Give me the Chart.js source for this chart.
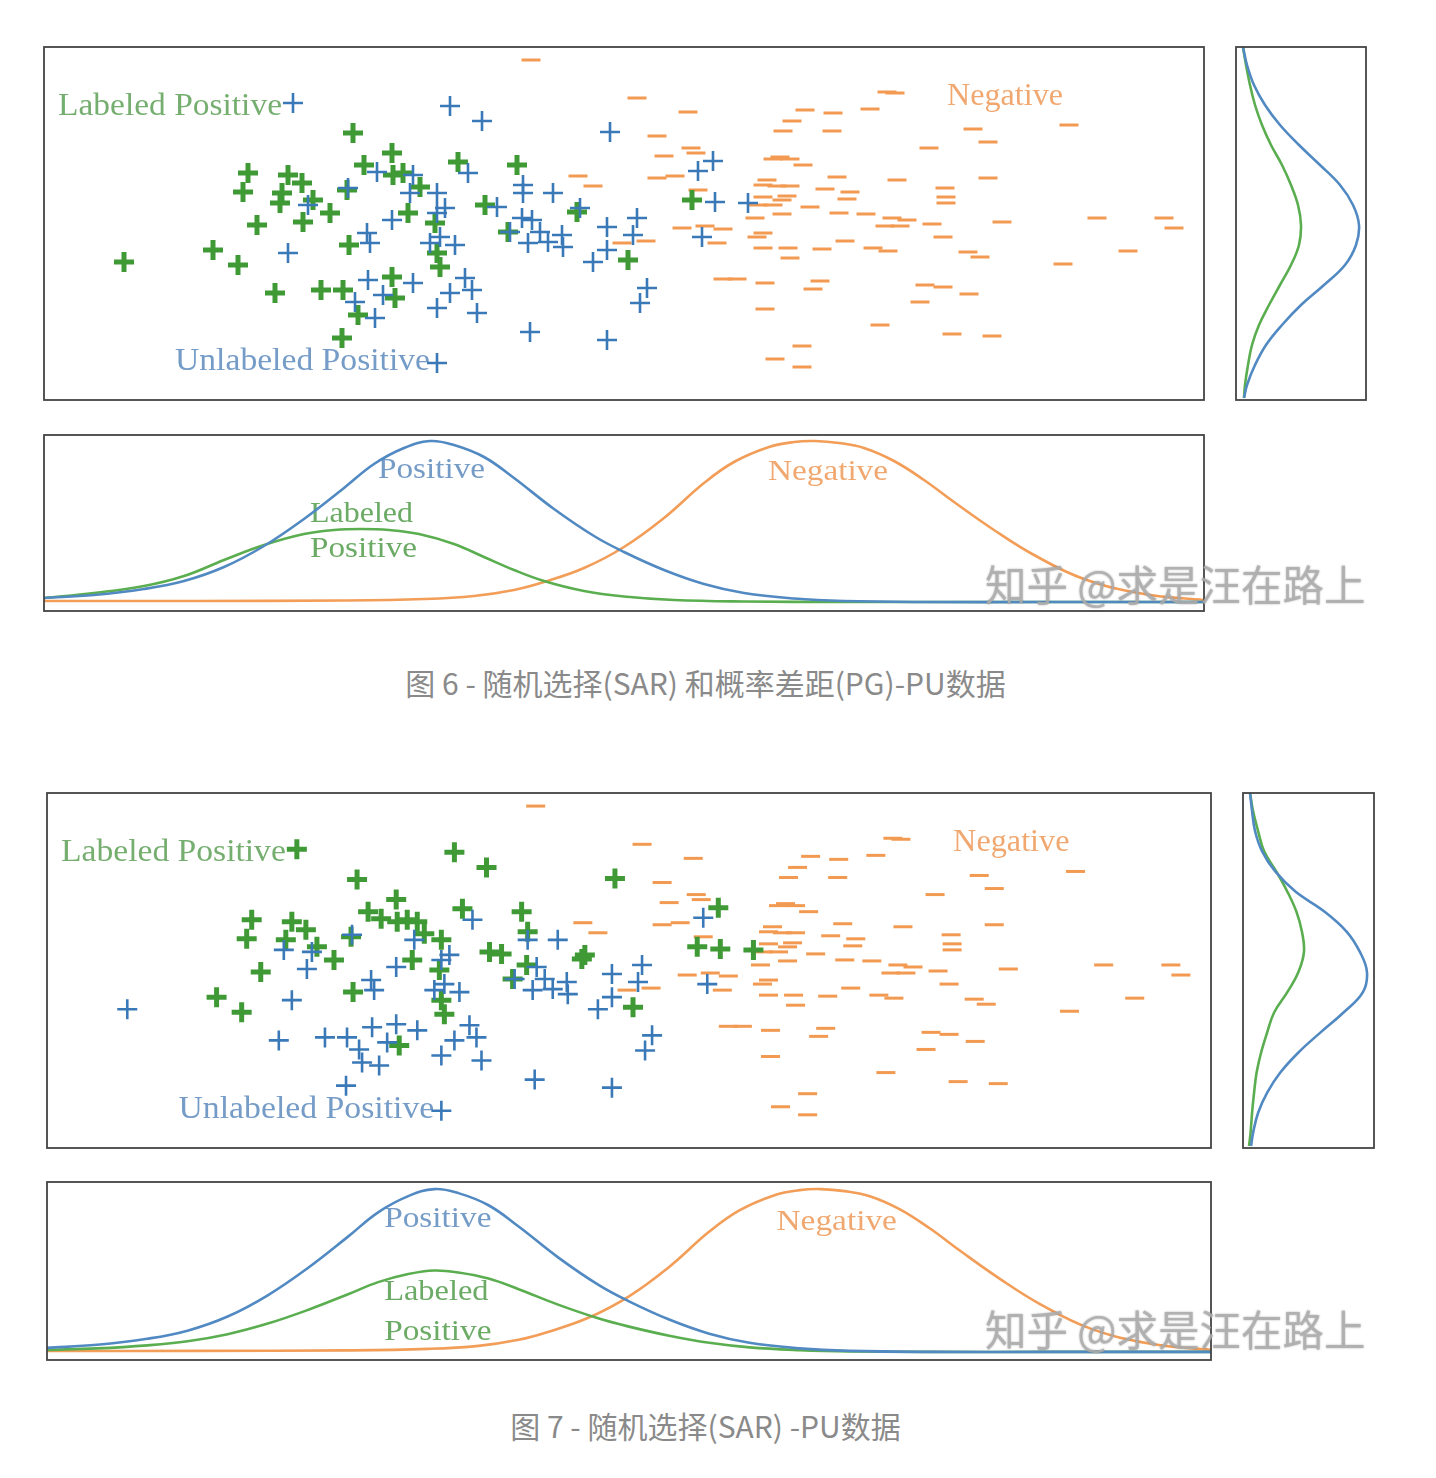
<!DOCTYPE html>
<html>
<head>
<meta charset="utf-8">
<script src="https://cdn.jsdelivr.net/npm/chart.js@4.4.1/dist/chart.umd.min.js"></script>
<style>
  body { margin: 0; background: #fff; width: 1436px; height: 1478px; position: relative; overflow: hidden; }
  canvas { position: absolute; }
  .caption { position: absolute; left: 0; width: 1411px; text-align: center; color: #8a8a8a;
             font: 30px "Noto Sans CJK SC", sans-serif; line-height: 36px; }
  .mark { position: absolute; font: 41.5px "Noto Sans CJK SC", sans-serif; line-height: 46px; white-space: nowrap;
          color: rgba(175,175,175,0.85); text-shadow: 0 0 2px rgba(110,110,110,0.55); z-index: 5; }
</style>
</head>
<body>
<div class="caption" style="top:664px">图 6 - 随机选择(SAR) 和概率差距(PG)-PU数据</div>
<div class="caption" style="top:1407px">图 7 - 随机选择(SAR) -PU数据</div>
<div class="mark" style="left:985px;top:560px">知乎 @求是汪在路上</div>
<div class="mark" style="left:985px;top:1305px">知乎 @求是汪在路上</div>
<script>
// positive samples (first 39 are the labeled ones in fig 6)
const posX = [8.0,16.9,19.4,20.4,19.9,21.3,23.1,24.4,25.8,23.8,23.6,26.9,25.9,28.6,27.7,29.9,30.3,30.5,30.9,32.0,
  34.8,34.9,35.9,37.6,36.4,34.8,35.1,31.4,29.8,39.1,39.3,39.6,41.4,47.3,44.1,46.4,53.3,58.4,64.8,
  24.9,26.4,30.4,33.3,34.8,32.3,32.6,24.4,32.4,33.9,31.1,33.1,36.6,36.9,39.3,40.1,39.3,39.6,38.6,41.1,
  40.6,43.8,56.6,42.4,47.9,47.9,50.9,45.3,53.6,47.8,48.8,46.6,49.6,51.8,50.4,51.9,48.4,56.3,59.3,58.9,
  56.3,54.9,36.9,42.1,42.8,40.6,39.3,43.3,48.6,56.3,60.3,59.6,39.3,66.9,65.4,67.1,70.4,65.8];
const posY = [13.8,15.0,13.5,22.7,20.8,17.5,10.7,22.5,21.7,20.7,19.7,20.0,17.8,18.7,11.0,11.0,21.0,15.5,26.7,23.5,
  24.7,22.5,22.7,21.3,18.7,12.3,10.2,8.5,6.2,17.7,14.7,13.3,23.8,23.5,19.5,16.8,18.8,14.0,20.0,
  29.7,19.5,21.2,22.8,18.0,16.7,15.7,14.7,12.0,10.5,9.8,8.2,20.7,22.5,20.7,19.2,18.7,16.3,15.7,15.5,
  29.4,27.9,26.8,22.7,21.5,20.7,20.7,19.3,19.2,18.2,18.0,16.8,16.8,16.5,15.8,15.3,15.7,17.3,18.2,16.5,
  15.0,13.8,11.7,12.2,11.0,10.7,9.2,8.7,6.8,6.0,11.2,9.7,3.7,23.9,22.9,19.8,19.7,16.3];
// labeled flags: fig 6 (SAR + PG) and fig 7 (SAR)
const labeledPG = [1,1,1,1,1,1,1,1,1,1, 1,1,1,1,1,1,1,1,1,1, 1,1,1,1,1,1,1,1,1,1, 1,1,1,1,1,1,1,1,1,
  0,0,0,0,0,0,0,0,0,0, 0,0,0,0,0,0,0,0,0,0, 0,0,0,0,0,0,0,0,0,0, 0,0,0,0,0,0,0,0,0,0, 0,0,0,0,0,0,0,0,0,0, 0,0,0,0,0,0,0,0];
const labeledSAR = [0,1,1,1,1,1,0,1,1,1, 0,1,0,1,0,0,1,1,1,1, 1,1,1,1,1,0,1,0,0,1, 1,1,1,1,1,1,1,1,1,
  1,0,0,1,0,0,0,0,0,0, 0,0,0,1,1,0,0,0,0,0, 1,1,1,0,1,0,0,1,1,1, 0,0,0,0,0,0,0,0,0,0, 0,0,0,0,0,0,0,0,0,0, 0,0,0,1,0,1,1,0];

// negative samples
const negX = [48.7,59.3,64.4,61.3,62.0,64.7,65.2,53.4,54.9,61.3,63.1,65.4,63.8,66.1,67.9,57.8,60.2,67.3,67.9,69.3,
  76.1,78.9,82.6,74.8,73.9,78.8,84.3,72.9,73.6,74.6,75.9,72.3,71.9,73.3,74.6,79.3,78.1,80.6,71.9,74.3,
  73.8,71.4,72.9,76.6,80.3,73.8,79.5,82.2,71.1,71.9,71.3,71.9,74.4,74.6,77.8,80.1,82.9,84.4,84.1,72.1,
  77.6,76.9,72.1,83.6,75.8,73.1,75.8,85.1,92.9,94.4,88.5,102.5,85.3,94.4,90.1,90.2,90.2,84.8,86.3,85.6,
  88.8,89.9,95.8,105.3,112.0,113.0,92.4,93.6,108.4,101.9,88.1,89.9,92.5,87.6,90.8,94.8];
const negY = [34.0,30.2,28.8,26.4,24.4,25.2,24.7,22.4,21.4,22.2,22.4,21.0,17.2,17.4,17.1,15.7,15.9,15.7,12.1,12.1,
  29.0,28.7,29.1,27.9,26.9,26.9,30.8,24.1,24.3,24.1,23.5,22.0,21.5,21.4,21.4,22.3,21.1,20.8,20.3,20.4,
  20.0,19.5,19.5,19.3,20.1,18.6,18.7,18.6,18.2,16.7,16.3,15.2,15.2,14.2,15.1,15.9,15.2,14.9,17.4,11.7,
  11.9,11.1,9.1,7.5,5.4,4.1,3.3,30.7,27.1,25.8,25.2,27.5,22.0,22.2,21.2,20.3,19.7,18.2,18.0,17.4,
  17.6,16.3,17.8,18.2,18.2,17.2,14.8,14.3,14.9,13.6,11.5,11.3,10.6,9.8,6.6,6.4];

// bottom densities along x
const posDensX = [0,5,10,14,18,22,26,30,33,36,38.6,41,44,47,51,55,58,62,66,70,75,80,88,100,116];
const posDensY = [0.4,0.7,1.3,2.1,3.5,5.6,8.3,11.4,13.8,15.4,16.1,15.7,14.5,12.4,9.3,6.6,5.0,3.2,1.8,0.9,0.35,0.1,0,0,0];
const negDensX = [0,15,30,38,43,47,50,54,58,62,66,69,72.5,75,77.1,79.5,82,85,88,91,95,99,104,110,116];
const negDensY = [0.1,0.1,0.15,0.3,0.6,1.2,2.0,3.4,5.5,8.4,11.9,14.0,15.5,16.0,16.1,15.9,15.4,14.1,12.2,10.0,7.2,4.7,2.3,0.8,0.2];
const labPG_DensX = [0,5,10,14,18,22,26,29,31.7,34.5,37.5,41,44,47,50,54,58,63,70,80,116];
const labPG_DensY = [0.4,0.9,1.6,2.6,4.2,5.7,6.8,7.2,7.3,7.2,6.8,5.8,4.5,3.2,2.1,1.1,0.55,0.2,0.05,0,0];
const labSAR_DensX = [0,5,10,14,18,22,26,30,33,36,38.6,41,44,47,51,55,58,62,66,70,75,80,88,100,116];
const labSAR_DensY = [0.2,0.35,0.65,1.05,1.75,2.8,4.15,5.7,6.9,7.7,8.05,7.85,7.25,6.2,4.65,3.3,2.5,1.6,0.9,0.45,0.18,0.05,0,0,0];

// right marginal densities along y (density, position)
const margY = [35.3,33.5,31.5,29.5,27.5,25.5,23.5,21.5,19.5,17.5,15.5,13.5,11.5,9.5,7.5,5.5,3.5,1.5,0.2];
const margPosPG = [0.7,1.1,1.8,2.9,4.4,6.3,8.4,10.4,11.7,12.3,12.0,10.9,8.8,6.5,4.6,3.0,1.9,1.1,0.8];
const margLabPG = [0.7,1.0,1.4,1.9,2.6,3.5,4.6,5.5,6.2,6.5,6.3,5.5,4.4,3.3,2.3,1.6,1.2,0.9,0.8];
const margPosSAR = [0.7,0.9,1.2,1.9,3.2,5.2,8.1,10.3,11.6,12.3,11.9,10.0,7.7,5.5,3.7,2.4,1.5,1.0,0.8];
const margLabSAR = [0.7,1.0,1.5,2.1,3.3,4.4,5.3,5.85,6.05,5.5,4.4,3.1,2.4,1.8,1.35,1.1,0.9,0.75,0.6];

const BLUE = '#3a79b8', GREEN = '#3f9a36', ORANGE = '#f29a52';
const BLUE_L = '#5189c2', GREEN_L = '#5aae4f', ORANGE_L = '#f29d58';
const M = 14;

const zip = (xs, ys) => xs.map((x, i) => ({ x, y: ys[i] }));

const framePlugin = {
  id: 'frame',
  afterDraw(chart) {
    const { ctx, chartArea: a } = chart;
    ctx.save();
    ctx.strokeStyle = '#444';
    ctx.lineWidth = 1.8;
    ctx.strokeRect(a.left, a.top, a.right - a.left, a.bottom - a.top);
    ctx.restore();
  }
};

// text labels placed in data units, stretched to the measured width
const notesPlugin = (list, size) => ({
  id: 'notes',
  beforeDatasetsDraw(chart) {
    const { ctx, scales: { x, y } } = chart;
    list.forEach(n => {
      ctx.save();
      ctx.font = `${size}px "Liberation Serif", serif`;
      ctx.fillStyle = n.color;
      ctx.textBaseline = 'alphabetic';
      const px = x.getPixelForValue(n.x);
      const target = x.getPixelForValue(n.x + n.w) - px;
      ctx.translate(px, y.getPixelForValue(n.y));
      ctx.scale(target / ctx.measureText(n.text).width, 1);
      ctx.fillText(n.text, 0, 0);
      ctx.restore();
    });
  }
});

function panel(box, datasets, scales, plugins) {
  const c = document.createElement('canvas');
  c.width = box.w + 2 * M; c.height = box.h + 2 * M;
  c.style.left = (box.x - M) + 'px'; c.style.top = (box.y - M) + 'px';
  document.body.appendChild(c);
  return new Chart(c, {
    type: 'scatter',
    data: { datasets },
    options: {
      responsive: false, animation: false, events: [],
      layout: { padding: M, autoPadding: false },
      plugins: { legend: { display: false }, tooltip: { enabled: false } },
      scales: {
        x: { type: 'linear', display: false, min: scales[0], max: scales[1] },
        y: { type: 'linear', display: false, min: scales[2], max: scales[3] }
      }
    },
    plugins: [framePlugin, ...plugins]
  });
}

function scatterPanel(box, labeled) {
  const pos = zip(posX, posY);
  const mk = (data, color, style, r, w) => ({
    data, pointStyle: style, pointRadius: r, pointBorderWidth: w,
    pointBorderColor: color, pointBackgroundColor: color, borderColor: color, showLine: false
  });
  const notes = [
    { text: 'Labeled Positive', x: 1.4, y: 28.5, w: 22.4, color: '#76ae70' },
    { text: 'Unlabeled Positive', x: 13.1, y: 3.0, w: 25.5, color: '#759bc7' },
    { text: 'Negative', x: 90.3, y: 29.5, w: 11.6, color: '#f0a870' }
  ];
  panel(box, [
    mk(pos.filter((p, i) => !labeled[i]), BLUE, 'cross', 10, 2.6),
    mk(pos.filter((p, i) => labeled[i]), GREEN, 'cross', 10, 5),
    mk(zip(negX, negY), ORANGE, 'line', 9.5, 3)
  ], [0, 116, 0, 35.3], [notesPlugin(notes, 32)]);
}

const curve = (data, color) => ({
  data, showLine: true, borderColor: color, borderWidth: 2.6, pointRadius: 0, fill: false, tension: 0.4
});

function marginPanel(box, posD, labD) {
  panel(box, [curve(zip(posD, margY), BLUE_L), curve(zip(labD, margY), GREEN_L)], [0, 13, 0, 35.3], []);
}

function densityPanel(box, labX, labY, yMin, yMax, notes) {
  panel(box, [
    curve(zip(posDensX, posDensY), BLUE_L),
    curve(zip(labX, labY), GREEN_L),
    curve(zip(negDensX, negDensY), ORANGE_L)
  ], [0, 116, yMin, yMax], [notesPlugin(notes, 30)]);
}

// Figure 6
scatterPanel({ x: 44, y: 47, w: 1160, h: 353 }, labeledPG);
marginPanel({ x: 1236, y: 47, w: 130, h: 353 }, margPosPG, margLabPG);
densityPanel({ x: 44, y: 435, w: 1160, h: 176 }, labPG_DensX, labPG_DensY, -0.9, 16.7, [
  { text: 'Positive', x: 33.4, y: 12.4, w: 10.7, color: '#759bc7' },
  { text: 'Negative', x: 72.4, y: 12.2, w: 12.0, color: '#f0a870' },
  { text: 'Labeled', x: 26.6, y: 8.0, w: 10.3, color: '#6cab66' },
  { text: 'Positive', x: 26.6, y: 4.5, w: 10.7, color: '#6cab66' }
]);

// Figure 7
scatterPanel({ x: 47, y: 793, w: 1164, h: 355 }, labeledSAR);
marginPanel({ x: 1243, y: 793, w: 131, h: 355 }, margPosSAR, margLabSAR);
densityPanel({ x: 47, y: 1182, w: 1164, h: 178 }, labSAR_DensX, labSAR_DensY, -0.8, 16.8, [
  { text: 'Positive', x: 33.6, y: 12.4, w: 10.7, color: '#759bc7' },
  { text: 'Negative', x: 72.7, y: 12.1, w: 12.0, color: '#f0a870' },
  { text: 'Labeled', x: 33.6, y: 5.1, w: 10.4, color: '#6cab66' },
  { text: 'Positive', x: 33.6, y: 1.2, w: 10.7, color: '#6cab66' }
]);
</script>
</body>
</html>
